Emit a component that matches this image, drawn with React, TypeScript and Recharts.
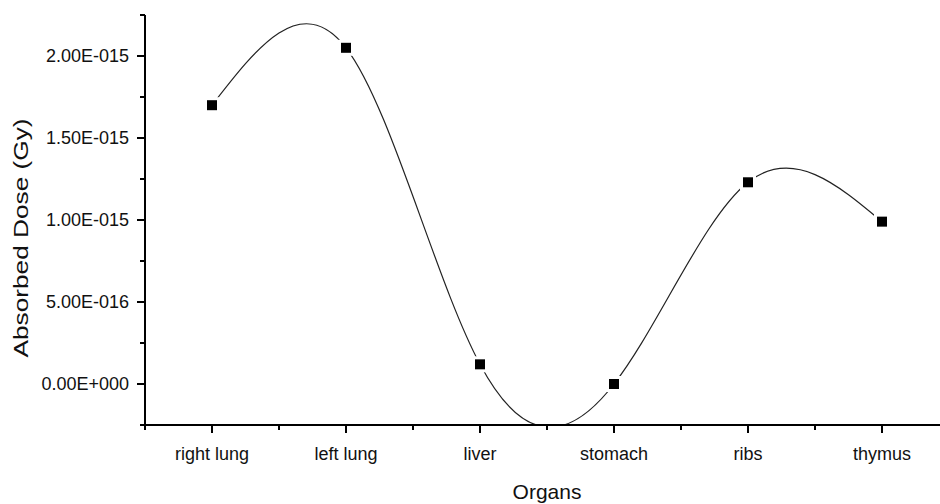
import { LineChart, Line, XAxis, YAxis } from "recharts";

const organs = ["right lung", "left lung", "liver", "stomach", "ribs", "thymus"];
const doses = [1.7e-15, 2.05e-15, 1.2e-16, 0, 1.23e-15, 0.99e-15];
const xTicks = [-0.5, 0, 0.5, 1, 1.5, 2, 2.5, 3, 3.5, 4, 4.5, 5, 5.5];
const yTicks = [-2.5e-16, 0, 2.5e-16, 5e-16, 7.5e-16, 1e-15, 1.25e-15, 1.5e-15, 1.75e-15, 2e-15, 2.25e-15];
const yMajor = [0, 5e-16, 1e-15, 1.5e-15, 2e-15];

const data = organs.map((organ, i) => ({ pos: i, organ, dose: doses[i] }));

const FONT = "'Liberation Sans', Arial, sans-serif";

function sci(v: number) {
  if (v === 0) return "0.00E+000";
  const e = Math.floor(Math.log10(Math.abs(v)) + 1e-9);
  const m = v / Math.pow(10, e);
  const sign = e < 0 ? "-" : "+";
  return m.toFixed(2) + "E" + sign + String(Math.abs(e)).padStart(3, "0");
}

const isMajorY = (v: number) => yMajor.some((m) => Math.abs(m - v) < 1e-20);

const YTick = (props: any) => {
  const { x, y, payload } = props;
  const major = isMajorY(payload.value);
  const len = major ? 8 : 5;
  return (
    <g>
      <line x1={x - len} x2={x} y1={y} y2={y} stroke="#000" strokeWidth={2} />
      {major && (
        <text x={x - 16} y={y} dy="0.36em" textAnchor="end" fontSize={18} fontFamily={FONT} fill="#111">
          {sci(payload.value)}
        </text>
      )}
    </g>
  );
};

const XTick = (props: any) => {
  const { x, y, payload } = props;
  const major = Number.isInteger(payload.value);
  const len = major ? 8 : 5;
  return (
    <g>
      <line x1={x} x2={x} y1={y} y2={y + len} stroke="#000" strokeWidth={2} />
      {major && (
        <text x={x} y={y + 35} textAnchor="middle" fontSize={18} fontFamily={FONT} fill="#111">
          {organs[payload.value]}
        </text>
      )}
    </g>
  );
};

const renderDot = (props: any) => {
  const { cx, cy, index } = props;
  return (
    <g key={"dot-" + index}>
      <rect x={cx - 8} y={cy - 8} width={16} height={16} fill="#fff" />
      <rect x={cx - 5} y={cy - 5} width={10} height={10} fill="#000" />
    </g>
  );
};

export default function App() {
  return (
    <div style={{ position: "absolute", left: 0, top: 0, width: 940, height: 504, overflow: "hidden", background: "#fff" }}>
      <LineChart width={960} height={504} data={data} margin={{ top: 15, right: 11, bottom: 0, left: 0 }}>
        <XAxis
          dataKey="pos"
          type="number"
          domain={[-0.5, 5.5]}
          ticks={xTicks}
          interval={0}
          tickSize={0}
          tickMargin={0}
          tickLine={false}
          tick={<XTick />}
          height={79}
          axisLine={{ stroke: "#000", strokeWidth: 2 }}
          label={{
            content: (p: any) => {
              const vb = p.viewBox;
              return (
                <text x={vb.x + vb.width / 2} y={vb.y + 74} textAnchor="middle" fontSize={21} fontFamily={FONT} fill="#111">
                  Organs
                </text>
              );
            },
          }}
        />
        <YAxis
          type="number"
          domain={[-2.5e-16, 2.25e-15]}
          allowDataOverflow
          ticks={yTicks}
          interval={0}
          tickSize={0}
          tickMargin={0}
          tickLine={false}
          tick={<YTick />}
          width={145}
          axisLine={{ stroke: "#000", strokeWidth: 2 }}
          label={{
            content: (p: any) => {
              const vb = p.viewBox;
              const cx = vb.x + 28;
              const cy = vb.y + vb.height / 2 + 18;
              return (
                <text
                  x={cx}
                  y={cy}
                  transform={`rotate(-90 ${cx} ${cy})`}
                  textAnchor="middle"
                  fontSize={21}
                  fontFamily={FONT}
                  fill="#111"
                  textLength={239}
                  lengthAdjust="spacingAndGlyphs"
                >
                  Absorbed Dose (Gy)
                </text>
              );
            },
          }}
        />
        <Line
          type="natural"
          dataKey="dose"
          stroke="#222"
          strokeWidth={1.2}
          dot={renderDot}
          activeDot={false}
          isAnimationActive={false}
        />
      </LineChart>
    </div>
  );
}
